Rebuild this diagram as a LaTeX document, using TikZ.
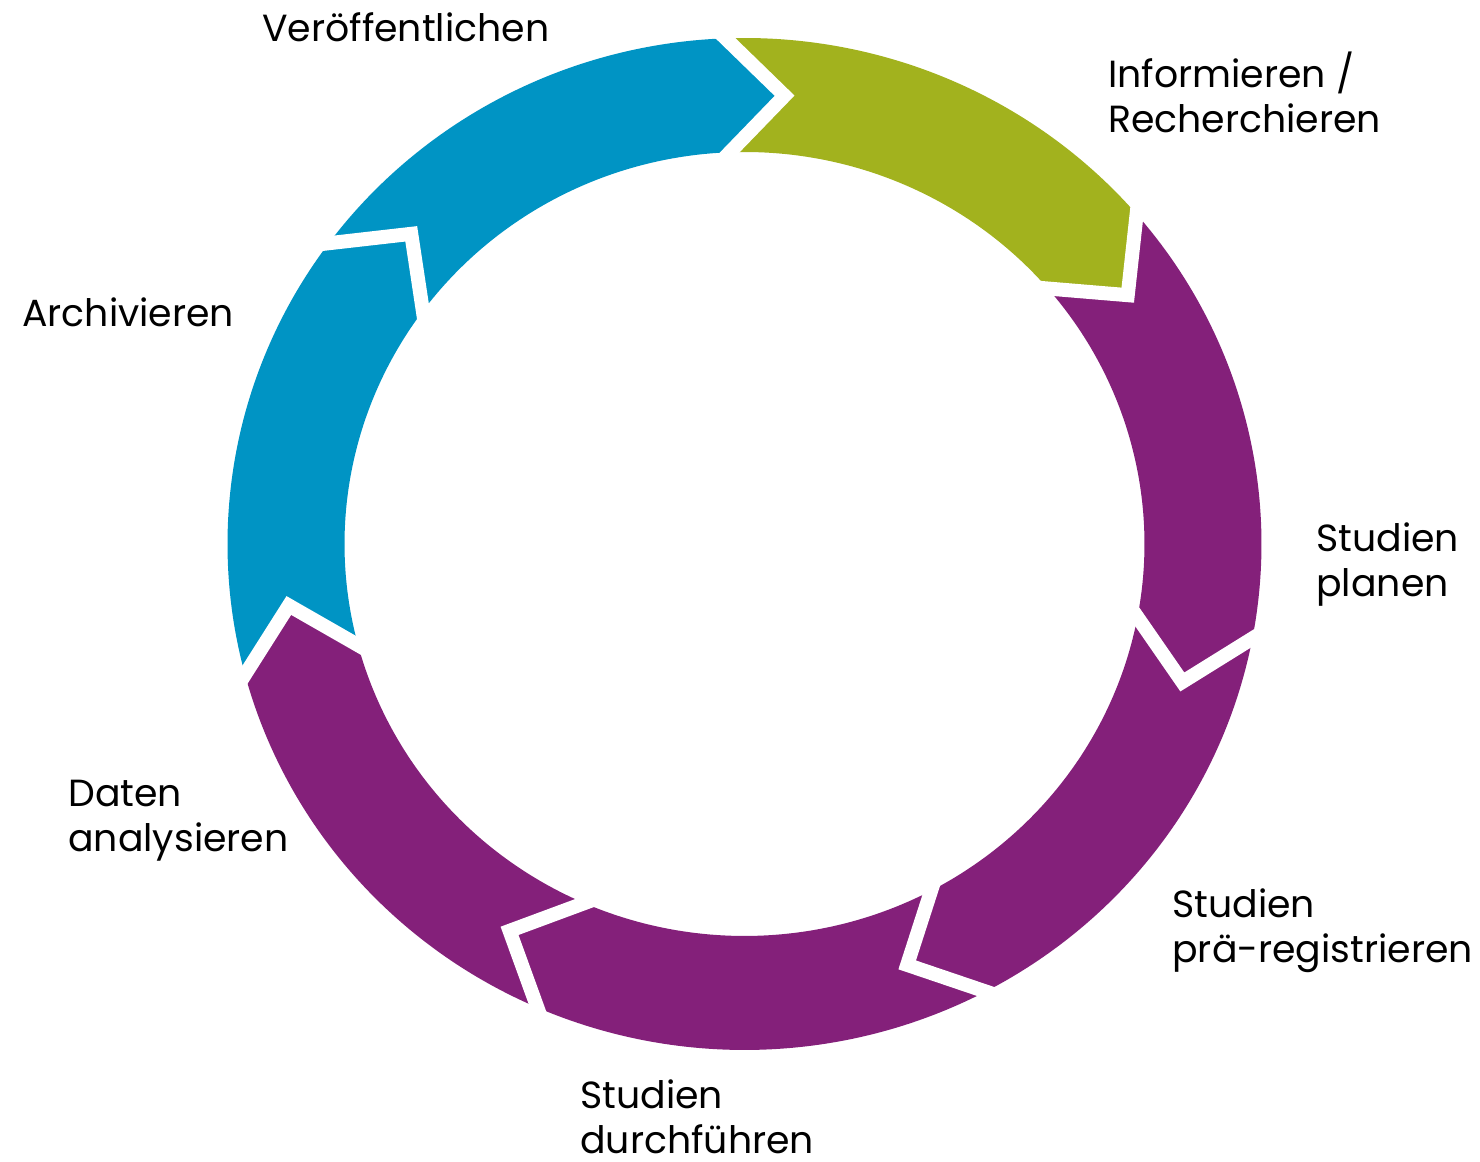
\documentclass[tikz,border=0pt]{standalone}
\usepackage{fontspec}
\setmainfont{Poppins}
\usetikzlibrary{calc}
\definecolor{cgreen}{HTML}{A2B21E}
\definecolor{cblue}{HTML}{0094C4}
\definecolor{cpurple}{HTML}{84207A}
\begin{document}
\begin{tikzpicture}[x=0.5pt,y=0.5pt,
  lbl/.style={anchor=base west, inner sep=0pt, align=left, text=black,
              font=\fontsize{18.9}{22.5}\selectfont},
  gap/.style={draw=white, line width=7pt, line join=miter}]
\useasboundingbox (0,0) rectangle (1480,1162);
\begin{scope}[shift={(744.5,618)}]
  \foreach \k in {0,...,6} {
    \pgfmathsetmacro\t{92.1-51.4286*\k}
    \coordinate (o\k) at ({517*cos(\t)},{506*sin(\t)});
    \coordinate (i\k) at ({400*cos(\t)},{392*sin(\t)});
    \coordinate (v\k) at ({460*cos(\t-7.1)},{450*sin(\t-7.1)});
  }
  \foreach \a/\b/\c in {0/1/cgreen,1/2/cpurple,2/3/cpurple,3/4/cpurple,4/5/cpurple,5/6/cblue,6/0/cblue} {
    \pgfmathsetmacro\ta{92.1-51.4286*\a}
    \pgfmathsetmacro\tb{\ta-51.4286}
    \fill[\c] (o\a) arc[start angle=\ta, end angle=\tb, x radius=517, y radius=506]
      -- (v\b) -- (i\b) arc[start angle=\tb, end angle=\ta, x radius=400, y radius=392]
      -- (v\a) -- cycle;
  }
  \foreach \k in {0,...,6}
    \draw[gap] ($(v\k)!1.4!(o\k)$) -- (o\k) -- (v\k) -- (i\k) -- ($(v\k)!1.4!(i\k)$);
\end{scope}
% anchor = baseline of the last line
\node[lbl] (veroeff) at (262,1120.5) {Veröffentlichen};
\node[lbl] (inform) at (1108,1029.3) {Informieren /\\Recherchieren};
\node[lbl] (planen) at (1316,565.3) {Studien\\planen};
\node[lbl] (praereg) at (1172,199) {Studien\\prä-registrieren};
\node[lbl] (durch) at (580,8) {Studien\\durchführen};
\node[lbl] (analys) at (68,310) {Daten\\analysieren};
\node[lbl] (archiv) at (22,835) {Archivieren};
\end{tikzpicture}
\end{document}
